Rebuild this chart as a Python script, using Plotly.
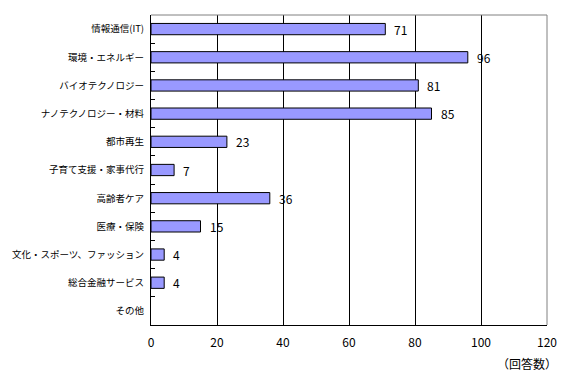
import plotly.graph_objects as go

categories = ["情報通信(IT)", "環境・エネルギー", "バイオテクノロジー", "ナノテクノロジー・材料",
              "都市再生", "子育て支援・家事代行", "高齢者ケア", "医療・保険",
              "文化・スポーツ、ファッション", "総合金融サービス", "その他"]
values = [71, 96, 81, 85, 23, 7, 36, 15, 4, 4, 0]
x_ticks = [0, 20, 40, 60, 80, 100, 120]

font_family = "Noto Sans CJK JP"

fig = go.Figure()
fig.add_trace(go.Bar(
    y=categories, x=values, orientation="h",
    marker=dict(color="#9999FF",
                line=dict(color="black", width=[1 if v > 0 else 0 for v in values])),
    width=0.4, hoverinfo="skip",
))

for c, v in zip(categories, values):
    if v > 0:
        fig.add_annotation(x=v, y=c, text=str(v), showarrow=False,
                           xanchor="left", yanchor="middle", xshift=7,
                           font=dict(size=12, color="black", family=font_family))

fig.add_annotation(xref="paper", yref="paper", x=1.03, y=-0.09,
                   text="（回答数）", showarrow=False, xanchor="right", yanchor="top",
                   font=dict(size=12, color="black", family=font_family))

# gray top/right border
fig.add_shape(type="line", xref="paper", yref="paper", x0=0, x1=1, y0=1, y1=1,
              line=dict(color="#808080", width=1))
fig.add_shape(type="line", xref="paper", yref="paper", x0=1, x1=1, y0=0, y1=1,
              line=dict(color="#808080", width=1))

fig.update_layout(
    width=572, height=372,
    margin=dict(l=143, r=33, t=7, b=55),
    paper_bgcolor="white", plot_bgcolor="white",
    showlegend=False,
    font=dict(family=font_family, size=10, color="black"),
    xaxis=dict(range=[0, 120], tickvals=x_ticks, ticktext=[str(t) for t in x_ticks],
               showgrid=True, gridcolor="black", gridwidth=1,
               showline=True, linecolor="black", linewidth=1,
               zeroline=False, ticks="", ticklabelstandoff=7, automargin=False,
               tickfont=dict(size=12, family=font_family), fixedrange=True),
    yaxis=dict(autorange="reversed", showline=True, linecolor="black", linewidth=1,
               ticks="inside", tickson="boundaries", ticklen=4, tickcolor="black",
               showgrid=False, ticklabelstandoff=4, automargin=False,
               tickfont=dict(size=9.5, family=font_family), fixedrange=True),
)

fig.write_html("out.html")
